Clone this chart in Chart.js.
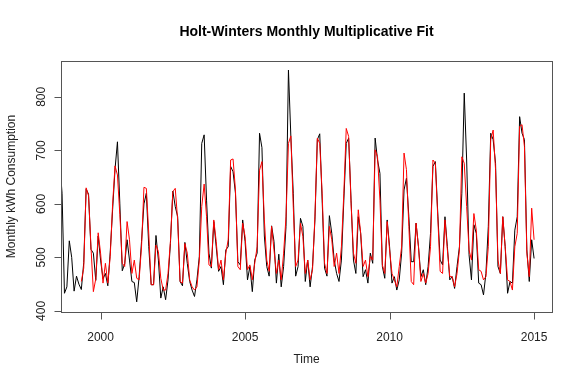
<!DOCTYPE html>
<html>
<head>
<meta charset="utf-8">
<script src="https://cdn.jsdelivr.net/npm/chart.js@4.4.1/dist/chart.umd.min.js"></script>
<style>
  html, body { margin: 0; padding: 0; background: #ffffff; }
  canvas { display: block; }
</style>
</head>
<body>
<canvas id="hw" width="584" height="389"></canvas>
<script>
// observed monthly kWh, starting May 1998
var obsStart = 1998 + 4 / 12;
var observed = [
  480, 560, 690, 680, 620, 433, 445, 531,
  500, 437, 465, 450, 440, 490, 628, 618, 515, 508, 457, 540,
  495, 460, 470, 447, 510, 590, 665, 716, 600, 475, 488, 533,
  495, 455, 453, 417, 464, 530, 600, 620, 520, 449, 449, 541,
  495, 424, 445, 421, 458, 526, 624, 595, 576, 455, 447, 528,
  489, 455, 439, 427, 458, 502, 713, 729, 607, 508, 480, 567,
  520, 474, 483, 449, 514, 520, 670, 660, 620, 492, 486, 570,
  530, 458, 483, 436, 495, 508, 732, 705, 540, 483, 465, 559,
  530, 452, 506, 445, 483, 558, 850, 726, 620, 465, 483, 573,
  558, 455, 495, 445, 483, 570, 720, 731, 607, 480, 465, 578,
  545, 495, 470, 455, 495, 607, 713, 723, 607, 495, 470, 576,
  545, 464, 477, 452, 508, 489, 723, 682, 657, 483, 461, 570,
  520, 452, 464, 439, 458, 508, 626, 648, 576, 492, 492, 564,
  520, 464, 477, 449, 483, 545, 670, 679, 583, 495, 486, 576,
  520, 458, 464, 442, 483, 520, 620, 807, 682, 505, 458, 561,
  545, 452, 449, 430, 470, 558, 732, 720, 676, 483, 470, 576,
  520, 433, 455, 452, 551, 576, 763, 732, 720, 514, 455, 533,
  498
];

// Holt-Winters fitted values, starting May 1999
var fitStart = 1999 + 4 / 12;
var fitted = [
  455, 480, 630, 615, 520, 436, 460, 546,
  508, 452, 489, 452, 502, 600, 671, 654, 580, 489, 483, 567,
  533, 470, 495, 461, 458, 520, 631, 629, 545, 449, 449, 523,
  511, 461, 439, 439, 470, 530, 623, 629, 570, 455, 452, 526,
  508, 458, 445, 439, 445, 495, 595, 637, 576, 486, 483, 570,
  530, 477, 495, 458, 508, 533, 682, 684, 626, 483, 477, 564,
  539, 477, 486, 458, 489, 520, 663, 679, 570, 495, 474, 558,
  514, 470, 495, 458, 508, 576, 713, 727, 595, 483, 495, 564,
  539, 470, 495, 458, 477, 576, 723, 713, 620, 489, 470, 558,
  533, 483, 508, 470, 520, 620, 741, 726, 601, 508, 489, 589,
  545, 483, 495, 464, 502, 495, 701, 688, 607, 486, 470, 567,
  514, 470, 458, 445, 483, 520, 695, 664, 558, 455, 449, 564,
  520, 455, 470, 452, 470, 520, 682, 676, 576, 474, 470, 570,
  514, 464, 464, 445, 470, 514, 688, 676, 595, 514, 495, 582,
  551, 477, 474, 458, 464, 520, 720, 738, 664, 495, 470, 576,
  520, 458, 455, 439, 520, 545, 745, 748, 707, 508, 464, 592,
  533
];

var xTicks = [2000, 2005, 2010, 2015];
var yTicks = [400, 500, 600, 700, 800];

function toPoints(start, vals) {
  return vals.map(function (v, i) {
    return { x: start + i / 12, y: v };
  });
}

var font = '"Liberation Sans", Arial, sans-serif';

// R style box, axes and labels
var rAxes = {
  id: 'rAxes',
  afterDraw: function (chart) {
    var c = chart.ctx;
    var a = chart.chartArea;
    var xs = chart.scales.x;
    var ys = chart.scales.y;
    c.save();
    c.strokeStyle = '#555';
    c.lineWidth = 1;
    c.strokeRect(Math.round(a.left) + 0.5, Math.round(a.top) + 0.5,
      Math.round(a.right - a.left), Math.round(a.bottom - a.top));

    c.fillStyle = '#222';
    c.font = '12px ' + font;
    c.textAlign = 'center';
    c.textBaseline = 'middle';

    var by = Math.round(a.bottom) + 0.5;
    c.beginPath();
    xTicks.forEach(function (v) {
      var px = Math.round(xs.getPixelForValue(v)) + 0.5;
      c.moveTo(px, by);
      c.lineTo(px, by + 7);
    });
    c.stroke();
    xTicks.forEach(function (v) {
      c.fillText(String(v), xs.getPixelForValue(v), by + 25);
    });

    var lx = Math.round(a.left) + 0.5;
    c.beginPath();
    yTicks.forEach(function (v) {
      var py = Math.round(ys.getPixelForValue(v)) + 0.5;
      c.moveTo(lx, py);
      c.lineTo(lx - 7, py);
    });
    c.stroke();
    yTicks.forEach(function (v) {
      c.save();
      c.translate(lx - 20, ys.getPixelForValue(v));
      c.rotate(-Math.PI / 2);
      c.fillText(String(v), 0, 0);
      c.restore();
    });

    var cx = (a.left + a.right) / 2;
    c.fillText('Time', cx, 360);
    c.save();
    c.translate(12, (a.top + a.bottom) / 2);
    c.rotate(-Math.PI / 2);
    c.fillText('Monthly kWh Consumption', 0, 0);
    c.restore();

    c.fillStyle = '#000';
    c.font = 'bold 14px ' + font;
    c.fillText('Holt-Winters Monthly Multiplicative Fit', cx, 32);
    c.restore();
  }
};

var chart = new Chart(document.getElementById('hw'), {
  type: 'line',
  data: {
    datasets: [
      {
        label: 'fitted',
        data: toPoints(fitStart, fitted),
        borderColor: '#ff0000',
        borderWidth: 1,
        pointRadius: 0,
        tension: 0,
        fill: false
      },
      {
        label: 'observed',
        data: toPoints(obsStart, observed),
        borderColor: '#000000',
        borderWidth: 1,
        pointRadius: 0,
        tension: 0,
        fill: false
      }
    ]
  },
  options: {
    responsive: false,
    devicePixelRatio: 1,
    animation: false,
    layout: { padding: { left: 61, right: 32, top: 61, bottom: 77 } },
    plugins: { legend: { display: false }, tooltip: { enabled: false } },
    scales: {
      x: { type: 'linear', min: 1998.63, max: 2015.62, display: false },
      y: { type: 'linear', min: 398, max: 867, display: false }
    }
  },
  plugins: [rAxes]
});
</script>
</body>
</html>
